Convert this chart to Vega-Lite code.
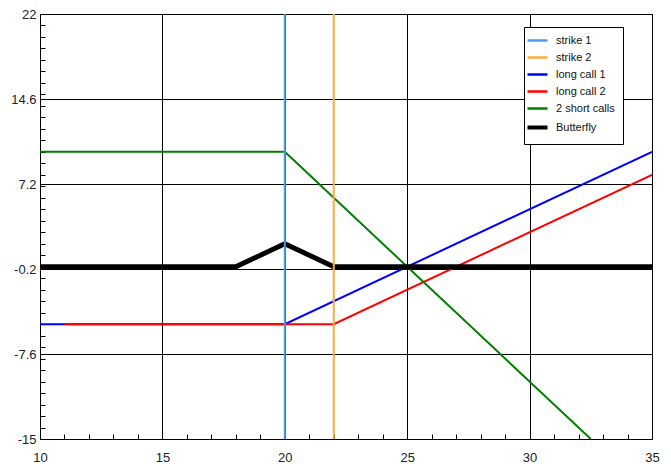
{
  "$schema": "https://vega.github.io/schema/vega-lite/v6.json",
  "width": 612,
  "height": 425,
  "autosize": "none",
  "padding": {"left": 40, "top": 14, "right": 19, "bottom": 36},
  "background": "white",
  "config": {
    "view": {"stroke": "black", "strokeWidth": 1},
    "axis": {
      "domainColor": "black",
      "tickColor": "black",
      "gridColor": "black",
      "labelColor": "#222222",
      "labelFont": "Liberation Sans",
      "labelFontSize": 13,
      "title": null
    },
    "legend": {
      "labelFont": "Liberation Sans",
      "labelFontSize": 11,
      "labelColor": "#111111"
    }
  },
  "data": {
    "values": [
      {"series": "long call 1", "x": 10, "y": -5},
      {"series": "long call 1", "x": 20, "y": -5},
      {"series": "long call 1", "x": 35, "y": 10},
      {"series": "long call 2", "x": 11, "y": -5},
      {"series": "long call 2", "x": 22, "y": -5},
      {"series": "long call 2", "x": 35, "y": 8},
      {"series": "2 short calls", "x": 10, "y": 10},
      {"series": "2 short calls", "x": 20, "y": 10},
      {"series": "2 short calls", "x": 32.5, "y": -15},
      {"series": "Butterfly", "x": 10, "y": 0},
      {"series": "Butterfly", "x": 18, "y": 0},
      {"series": "Butterfly", "x": 20, "y": 2},
      {"series": "Butterfly", "x": 22, "y": 0},
      {"series": "Butterfly", "x": 35, "y": 0},
      {"series": "strike 1", "x": 20, "y": -15},
      {"series": "strike 1", "x": 20, "y": 22},
      {"series": "strike 2", "x": 22, "y": -15},
      {"series": "strike 2", "x": 22, "y": 22}
    ]
  },
  "encoding": {
    "x": {
      "field": "x",
      "type": "quantitative",
      "scale": {"domain": [10, 35], "nice": false, "zero": false},
      "axis": {
        "values": [10, 11, 12, 13, 14, 15, 16, 17, 18, 19, 20, 21, 22, 23, 24, 25, 26, 27, 28, 29, 30, 31, 32, 33, 34, 35],
        "labelExpr": "datum.value % 5 == 0 ? '' + datum.value : ''",
        "grid": true,
        "gridOpacity": {"condition": {"test": "datum.value % 5 == 0", "value": 1}, "value": 0},
        "tickSize": {"condition": {"test": "datum.value % 5 == 0", "value": 0}, "value": -5},
        "labelPadding": 12,
        "labelFlush": false
      }
    },
    "y": {
      "field": "y",
      "type": "quantitative",
      "scale": {"domain": [-15, 22], "nice": false, "zero": false},
      "axis": {
        "values": [-15, -14, -13, -12, -11, -10, -9, -8, -7.6, -7, -6, -5, -4, -3, -2, -1, -0.2, 0, 1, 2, 3, 4, 5, 6, 7, 7.2, 8, 9, 10, 11, 12, 13, 14, 14.6, 15, 16, 17, 18, 19, 20, 21, 22],
        "labelExpr": "indexof([-15, -7.6, -0.2, 7.2, 14.6, 22], datum.value) >= 0 ? '' + datum.value : ''",
        "grid": true,
        "gridOpacity": {"condition": {"test": "indexof([-15, -7.6, -0.2, 7.2, 14.6, 22], datum.value) >= 0", "value": 1}, "value": 0},
        "tickSize": {"condition": {"test": "indexof([-15, -7.6, -0.2, 7.2, 14.6, 22], datum.value) >= 0", "value": 0}, "value": -5},
        "labelPadding": 4,
        "labelFlush": false
      }
    },
    "color": {
      "field": "series",
      "type": "nominal",
      "scale": {
        "domain": ["strike 1", "strike 2", "long call 1", "long call 2", "2 short calls", "Butterfly"],
        "range": ["#4C9BF0", "#FFAA3A", "#0000FF", "#FF0000", "#008000", "#000000"]
      },
      "legend": {
        "title": null,
        "orient": "none",
        "legendX": 484,
        "legendY": 13,
        "symbolType": "stroke",
        "symbolSize": 400,
        "symbolStrokeWidth": 2.5,
        "rowPadding": 5,
        "labelOffset": 13,
        "padding": 8,
        "strokeColor": "black",
        "fillColor": "white",
        "encode": {
          "symbols": {
            "update": {
              "strokeWidth": {"signal": "datum.label == 'Butterfly' ? 4 : 2.5"}
            }
          }
        }
      }
    }
  },
  "layer": [
    {
      "transform": [{"filter": "indexof(['long call 1', 'long call 2', '2 short calls'], datum.series) >= 0"}],
      "mark": {"type": "line", "clip": true, "strokeWidth": 2}
    },
    {
      "transform": [{"filter": "datum.series == 'Butterfly'"}],
      "mark": {"type": "line", "clip": true, "strokeWidth": 5}
    },
    {
      "transform": [{"filter": "indexof(['strike 1', 'strike 2'], datum.series) >= 0"}],
      "mark": {"type": "line", "clip": true, "strokeWidth": 2}
    }
  ]
}
